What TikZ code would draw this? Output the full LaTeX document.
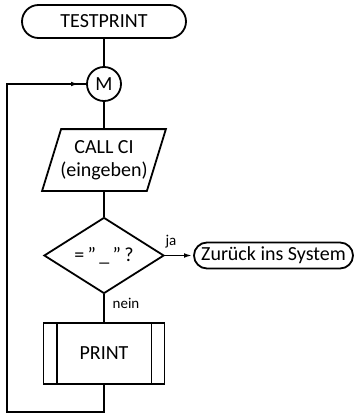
\documentclass[tikz,border=0pt]{standalone}
\usepackage{fontspec}
\setmainfont{Carlito}
\usetikzlibrary{shapes.geometric,arrows.meta}

\tikzset{
  box/.style={draw,inner sep=0pt},
  lbl/.style={font=\fontsize{15}{17}\selectfont},
  tip/.style={-{Latex[length=9pt,width=4.5pt]}}
}

\begin{document}
\begin{tikzpicture}[x=1pt,y=-1pt,line width=1.8pt,font=\fontsize{20}{23}\selectfont]
\useasboundingbox (0,0) rectangle (355,415);
\node[box,rounded corners=16.5pt,minimum width=164pt,minimum height=33pt] (start) at (104,21.5) {TESTPRINT};
\node[box,circle,minimum size=34pt] (m) at (104,84) {M};
\node[inner sep=0pt,minimum width=103pt,minimum height=60pt,align=center] (input) at (104,160) {CALL CI\\(eingeben)};
\draw ([xshift=9.5pt]input.north west) -- ([xshift=9.5pt]input.north east)
  -- ([xshift=-9.5pt]input.south east) -- ([xshift=-9.5pt]input.south west) -- cycle;
\node[box,diamond,minimum width=120pt,minimum height=75pt] (ask) at (104,255.5) {=\,"\,\_\,"\,?};
\node[box,rounded corners=13pt,minimum width=159pt,minimum height=26pt] (back) at (273.5,255.5) {Zurück ins System};
\node[box,minimum width=121pt,minimum height=61pt] (print) at (104,353.5) {PRINT};
\draw ([xshift=14pt]print.north west) -- ([xshift=14pt]print.south west);
\draw ([xshift=-14pt]print.north east) -- ([xshift=-14pt]print.south east);
\node[lbl] (ja) at (171,242) {ja};
\node[lbl] (nein) at (126,303) {nein};
\draw (start) -- (m);
\draw (m) -- (input);
\draw (input) -- (ask);
\draw (ask) -- (print);
\draw[tip] (ask) -- (back);
\coordinate (lb) at (7,412);
\coordinate (lt) at (7,84);
\coordinate (mid) at (80,84);
\draw (print.south) -- (print.south |- lb) -- (lb) -- (lt) -- (m.west);
\draw[tip] (lt) -- (mid);
\end{tikzpicture}
\end{document}
